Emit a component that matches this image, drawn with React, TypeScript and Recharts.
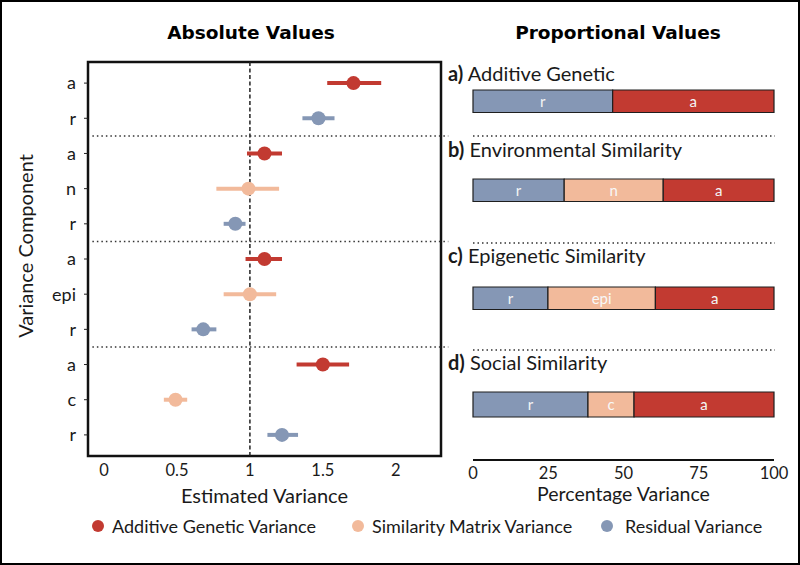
import React from "react";
import {
  ScatterChart,
  Scatter,
  XAxis,
  YAxis,
  ErrorBar,
  ReferenceLine,
  ReferenceArea,
  BarChart,
  Bar,
  LabelList,
} from "recharts";

// left panel: estimates with intervals, one row per variance component
const rowLabels = ["a", "r", "a", "n", "r", "a", "epi", "r", "a", "c", "r"];
const rowSeries = [0, 2, 0, 1, 2, 0, 1, 2, 0, 1, 2];
const estimates = [1.71, 1.47, 1.1, 0.99, 0.9, 1.1, 1.0, 0.68, 1.5, 0.49, 1.22];
const lowerCI = [1.53, 1.36, 0.98, 0.77, 0.82, 0.97, 0.82, 0.6, 1.32, 0.41, 1.12];
const upperCI = [1.9, 1.58, 1.22, 1.2, 0.97, 1.22, 1.18, 0.77, 1.68, 0.57, 1.33];
const groupBreaks = [2.5, 5.5, 8.5];
const xTicks = [0, 0.5, 1, 1.5, 2];

const seriesNames = [
  "Additive Genetic Variance",
  "Similarity Matrix Variance",
  "Residual Variance",
];
const seriesColors = ["#c23a31", "#f2ba9b", "#8597b5"];

// right panel: proportions per model
const panelLetters = ["a)", "b)", "c)", "d)"];
const panelTitles = [
  "Additive Genetic",
  "Environmental Similarity",
  "Epigenetic Similarity",
  "Social Similarity",
];
const residualPct = [46.4, 30.3, 24.9, 38.2];
const similarityPct = [0, 32.9, 35.7, 15.3];
const additivePct = [53.6, 36.8, 39.4, 46.5];
const similarityNames = ["", "n", "epi", "c"];
const pctTicks = [0, 25, 50, 75, 100];

const points = rowLabels.map((label, i) => ({
  row: i + 1,
  label,
  series: rowSeries[i],
  est: estimates[i],
  err: [estimates[i] - lowerCI[i], upperCI[i] - estimates[i]],
}));

const panelRows = panelTitles.map((name, i) => ({
  name,
  r: residualPct[i],
  mid: similarityPct[i],
  a: additivePct[i],
}));

const INK = "#1e1e1e";
const TXT = "#1a1a1a";
const FONT = "Lato, 'Open Sans', sans-serif";

// layout of the right-hand panels (page pixels)
const panelLabelY = [73, 149, 255, 362];
const panelBarTop = [89, 178, 286, 392];
const separatorY = [136, 243, 350];

const Dotted: React.FC<{ x1: number; x2: number; y: number }> = ({ x1, x2, y }) => (
  <svg
    width={x2 - x1}
    height={4}
    style={{ position: "absolute", left: x1, top: y - 2 }}
  >
    <line x1={0} x2={x2 - x1} y1={2} y2={2} stroke="#333" strokeWidth={1.5} strokeDasharray="1.5 3" />
  </svg>
);

const PanelBar: React.FC<{ i: number }> = ({ i }) => {
  const withAxis = i === panelRows.length - 1;
  const height = withAxis ? 168 : 45;
  const top = withAxis ? panelBarTop[i] - 52 : panelBarTop[i] - 10;
  return (
    <div style={{ position: "absolute", left: 453, top }}>
      <BarChart
        width={345}
        height={height}
        layout="vertical"
        data={[panelRows[i]]}
        margin={{ top: withAxis ? 8 : 10, right: 24, bottom: withAxis ? 5 : 10, left: 20 }}
        barCategoryGap={0}
      >
        <XAxis
          type="number"
          domain={[0, 100]}
          ticks={pctTicks}
          hide={!withAxis}
          height={43}
          axisLine={{ stroke: "#111", strokeWidth: 2 }}
          tickLine={false}
          tickSize={5}
          tickMargin={2}
          tick={{ fill: TXT, fontSize: 16.5 }}
          label={{ value: "Percentage Variance", position: "insideBottom", offset: 2, fill: TXT, fontSize: 19.5 }}
        />
        <YAxis type="category" dataKey="name" hide />
        <Bar dataKey="r" stackId="p" fill={seriesColors[2]} stroke={INK} strokeWidth={1.2} barSize={25} isAnimationActive={false}>
          <LabelList position="center" fill="#f4f4f4" fontSize={15} formatter={() => "r"} />
        </Bar>
        {similarityPct[i] > 0 && (
          <Bar dataKey="mid" stackId="p" fill={seriesColors[1]} stroke={INK} strokeWidth={1.2} barSize={25} isAnimationActive={false}>
            <LabelList position="center" fill="#f8f8f8" fontSize={15} formatter={() => similarityNames[i]} />
          </Bar>
        )}
        <Bar dataKey="a" stackId="p" fill={seriesColors[0]} stroke={INK} strokeWidth={1.2} barSize={25} isAnimationActive={false}>
          <LabelList position="center" fill="#f4f4f4" fontSize={15} formatter={() => "a"} />
        </Bar>
      </BarChart>
    </div>
  );
};

export default function App() {
  return (
    <div
      style={{
        position: "fixed",
        left: 0,
        top: 0,
        width: 800,
        height: 565,
        background: "#fff",
        fontFamily: FONT,
        color: TXT,
        overflow: "hidden",
      }}
    >
      {/* titles */}
      <div style={{ position: "absolute", left: 0, width: 502, top: 21, textAlign: "center", fontFamily: "'DejaVu Sans', sans-serif", fontWeight: "bold", fontSize: 18.5, lineHeight: "24px", color: "#000" }}>
        Absolute Values
      </div>
      <div style={{ position: "absolute", left: 468, width: 300, top: 21, textAlign: "center", fontFamily: "'DejaVu Sans', sans-serif", fontWeight: "bold", fontSize: 18.5, lineHeight: "24px", color: "#000" }}>
        Proportional Values
      </div>

      {/* y axis title */}
      <div
        style={{
          position: "absolute",
          left: 25,
          top: 246,
          transform: "translate(-50%, -50%) rotate(-90deg)",
          whiteSpace: "nowrap",
          fontSize: 20,
          lineHeight: "24px",
        }}
      >
        Variance Component
      </div>

      {/* left: absolute values */}
      <div style={{ position: "absolute", left: 0, top: 0 }}>
        <ScatterChart width={460} height={520} margin={{ top: 62, right: 19, bottom: 17, left: 0 }}>
          <XAxis
            type="number"
            dataKey="est"
            domain={[-0.11, 2.31]}
            ticks={xTicks}
            allowDataOverflow
            height={47}
            axisLine={false}
            tickLine={false}
            tickSize={5}
            tickMargin={3}
            tick={{ fill: TXT, fontSize: 16.5 }}
            label={{ value: "Estimated Variance", position: "insideBottom", offset: 0, fill: TXT, fontSize: 20 }}
          />
          <YAxis
            type="number"
            dataKey="row"
            domain={[0.4, 11.6]}
            reversed
            allowDataOverflow
            ticks={points.map((p) => p.row)}
            interval={0}
            tickFormatter={(v: number) => rowLabels[Math.round(v) - 1]}
            width={88}
            axisLine={false}
            tickLine={{ stroke: "#222" }}
            tickSize={4}
            tickMargin={8}
            tick={{ fill: TXT, fontSize: 18 }}
          />
          <ReferenceArea x1={-0.11} x2={2.31} y1={0.4} y2={11.6} fill="none" stroke="#111" strokeWidth={2.5} ifOverflow="visible" />
          <ReferenceLine x={1} stroke="#222" strokeWidth={1.5} strokeDasharray="4 2.5" />
          {groupBreaks.map((b) => (
            <ReferenceLine
              key={b}
              segment={[
                { x: -0.08, y: b },
                { x: 2.36, y: b },
              ]}
              stroke="#333"
              strokeWidth={1.5}
              strokeDasharray="1.5 3"
              ifOverflow="visible"
            />
          ))}
          {seriesNames.map((name, s) => (
            <Scatter
              key={name}
              name={name}
              data={points.filter((p) => p.series === s)}
              fill={seriesColors[s]}
              isAnimationActive={false}
              shape={(props: any) => <circle cx={props.cx} cy={props.cy} r={7} fill={seriesColors[s]} />}
            >
              <ErrorBar dataKey="err" direction="x" width={0} strokeWidth={4} stroke={seriesColors[s]} />
            </Scatter>
          ))}
        </ScatterChart>
      </div>

      {/* right: proportional values */}
      {separatorY.map((y) => (
        <Dotted key={y} x1={473} x2={775} y={y} />
      ))}
      {panelTitles.map((t, i) => (
        <div
          key={t}
          style={{ position: "absolute", left: 448, top: panelLabelY[i] - 12, fontSize: 20, lineHeight: "24px", whiteSpace: "nowrap" }}
        >
          <b>{panelLetters[i]}</b> {t}
        </div>
      ))}
      {panelRows.map((_, i) => (
        <PanelBar key={i} i={i} />
      ))}

      {/* legend */}
      {seriesNames.map((name, s) => {
        const dotX = [98, 358, 607][s];
        const textX = [112, 372, 625][s];
        return (
          <React.Fragment key={name}>
            <div style={{ position: "absolute", left: dotX - 6, top: 520, width: 12, height: 12, borderRadius: 6, background: seriesColors[s] }} />
            <div style={{ position: "absolute", left: textX, top: 514, fontSize: 18, lineHeight: "24px", whiteSpace: "nowrap" }}>{name}</div>
          </React.Fragment>
        );
      })}

      <div style={{ position: "absolute", inset: 0, border: "2px solid #000", pointerEvents: "none" }} />
    </div>
  );
}
